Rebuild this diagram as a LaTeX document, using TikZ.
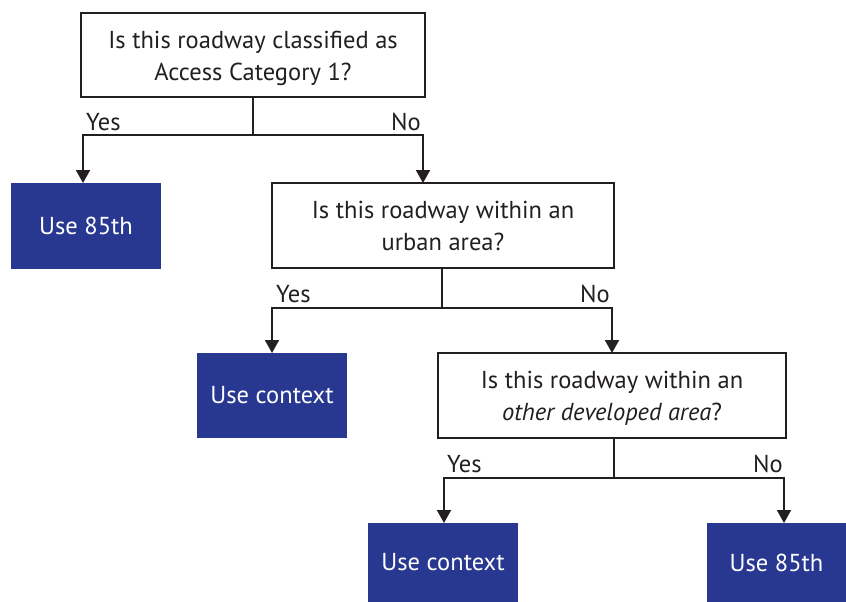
\documentclass[tikz,border=0pt]{standalone}
\usepackage{fontspec}
\setmainfont{PT Sans}
\usetikzlibrary{arrows.meta}
\definecolor{navy}{HTML}{283891}
\definecolor{ink}{HTML}{231F20}
\newcommand{\qtext}[1]{\raisebox{-9pt}[0pt][0pt]{\begin{tabular}{@{}c@{}}#1\end{tabular}}}
\tikzset{
  qbox/.style={draw=ink, line width=1.9pt, fill=white, rectangle, inner sep=0pt, align=center, font=\fontsize{24.5}{32}\selectfont, text=ink},
  abox/.style={fill=navy, rectangle, inner sep=0pt, align=center, font=\fontsize{24.5}{28}\selectfont, text=white},
  conn/.style={draw=ink, line width=1.9pt},
  arr/.style={conn, -{Triangle[width=14pt,length=13pt]}},
  lbl/.style={font=\fontsize{24.5}{26}\selectfont, text=ink, inner sep=0pt}
}
\begin{document}
\begin{tikzpicture}[x=1pt,y=-1pt]
\useasboundingbox (0,0) rectangle (846,602);
\node[qbox, minimum width=344pt, minimum height=84pt] (q1) at (253,55) {\qtext{Is this roadway classified as\\Access Category 1?}};
\node[abox, minimum width=150pt, minimum height=86pt] (a1) at (86,226) {Use 85th};
\node[qbox, minimum width=342pt, minimum height=85pt] (q2) at (443,225.5) {\qtext{Is this roadway within an\\urban area?}};
\node[abox, minimum width=150pt, minimum height=85pt] (a2) at (272,395.5) {Use context};
\node[qbox, minimum width=348pt, minimum height=85pt] (q3) at (612,395.5) {\qtext{Is this roadway within an\\\textit{other developed area}?}};
\node[abox, minimum width=150pt, minimum height=79pt] (a3) at (443,562.5) {Use context};
\node[abox, minimum width=139pt, minimum height=79pt] (a4) at (776.5,562.5) {Use 85th};

\coordinate (j1) at (253,135);
\coordinate (y1) at (83,183);
\coordinate (n1) at (423,183);
\draw[conn] (q1.south) -- (j1);
\draw[arr] (j1) -| (y1);
\draw[arr] (j1) -| (n1);

\coordinate (j2) at (442,308);
\coordinate (y2) at (272,353);
\coordinate (n2) at (612,353);
\draw[conn] (q2.south -| j2) -- (j2);
\draw[arr] (j2) -| (y2);
\draw[arr] (j2) -| (n2);

\coordinate (j3) at (614,478);
\coordinate (y3) at (444,523);
\coordinate (n3) at (784,523);
\draw[conn] (q3.south -| j3) -- (j3);
\draw[arr] (j3) -| (y3);
\draw[arr] (j3) -| (n3);

\node[lbl, anchor=base west] (ly1) at (86,130) {Yes};
\node[lbl, anchor=base east] (ln1) at (421,130) {No};
\node[lbl, anchor=base west] (ly2) at (276,302) {Yes};
\node[lbl, anchor=base east] (ln2) at (610,302) {No};
\node[lbl, anchor=base west] (ly3) at (447,472) {Yes};
\node[lbl, anchor=base east] (ln3) at (783,472) {No};
\end{tikzpicture}
\end{document}
